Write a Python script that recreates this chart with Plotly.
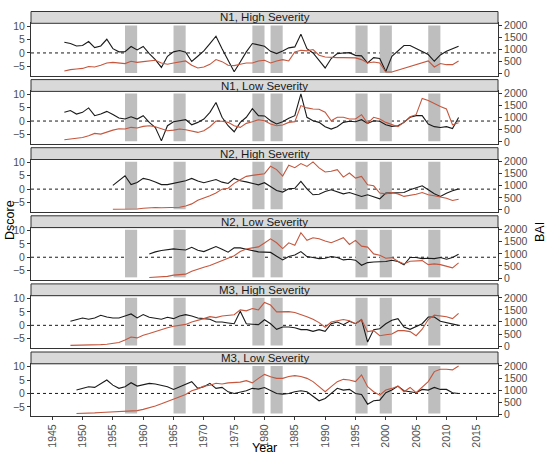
import plotly.graph_objects as go

# drought years shown as grey bands
band_start = [1957, 1965, 1978, 1981, 1995, 1999, 2007]
band_end = [1959, 1967, 1980, 1983, 1997, 2001, 2009]

panel_titles = ["N1, High Severity", "N1, Low Severity", "N2, High Severity",
                "N2, Low Severity", "M3, High Severity", "M3, Low Severity"]
start_year = [1947, 1947, 1955, 1961, 1948, 1949]

# Dscore (black, left axis)
n1_high_dscore = [4.0, 3.5, 2.6, 2.75, 4.25, 2.0, 2.6, 5.1, 1.6, 0.4,
                  0.5, 2.4, 1.1, 2.4, -0.25, -2.5, -5.4, -1.25, 0.4, 0.9,
                  0.25, -3.2, -1.25, 0.75, 3.5, 6.25, 1.6, -2.75, -7.0, -3.4,
                  0.4, 3.5, 3.0, 2.5, 0.6, -0.25, 0.75, 1.9, 2.25, 7.0,
                  1.6, 0.0, -2.75, -5.6, -2.1, -0.25, 0.0, 0.1, -0.9, -1.1,
                  -3.75, -1.75, -2.1, -6.9, -1.25, 0.75, 2.75, 2.75, 1.6, 0.4,
                  -0.6, -3.1, -0.75, 0.6, 1.6, 2.5]
n1_low_dscore = [3.25, 3.9, 2.6, 3.25, 4.9, 2.0, 2.6, 3.6, 2.4, 1.1,
                 0.75, 1.6, 0.75, 2.0, -0.5, -2.4, -7.4, -1.75, -0.25, 0.1,
                 0.5, -1.4, -0.5, 0.75, 3.25, 6.9, 1.4, -1.75, -4.0, -0.5,
                 1.4, 4.6, 2.0, 1.9, 0.1, -1.1, -0.25, 1.0, 2.0, 10.1,
                 1.4, 0.1, -0.5, -2.1, -3.0, -2.1, -0.5, -0.1, -0.25, 0.5,
                 -0.9, 0.1, -0.1, -1.4, -2.0, -1.75, -0.5, 1.4, 2.0, 2.0,
                 -1.1, -2.1, -2.4, -2.1, -2.8, 1.3]
n2_high_dscore = [1.4, 3.25, 5.0, 1.7, 2.5, 4.0, 3.5, 2.7, 1.7, 1.7,
                  2.1, 2.6, 3.1, 4.0, 3.0, 2.4, 3.0, 3.6, 2.6, 2.1,
                  4.0, 3.1, 2.7, 2.1, 1.6, 2.4, 0.9, -0.5, -1.1, 0.1,
                  0.3, 2.9, 0.1, -2.1, -1.9, -0.9, -0.25, -1.1, -1.75, -1.25,
                  -2.1, -2.75, -2.1, -3.0, -3.6, -1.5, -1.5, -1.5, -1.25, -0.25,
                  0.4, 1.25, -0.25, -1.75, -2.75, -1.5, -0.6, 0.1]
n2_low_dscore = [1.2, 2.0, 2.5, 2.8, 3.1, 2.9, 2.7, 3.7, 2.6, 2.1,
                 3.2, 4.0, 3.0, 1.9, 3.5, 3.5, 3.0, 2.5, 2.0, 1.9,
                 1.8, 0.4, -1.0, 0.3, 0.8, 2.1, 0.25, -0.1, -0.5, -0.4,
                 0.25, -0.1, -1.0, -0.75, -1.1, -3.0, -2.0, -1.8, -1.6, -1.6,
                 -1.1, -1.6, -2.8, -0.1, -0.1, -0.5, -0.4, -0.5, -0.1, -0.75,
                 -0.1, 1.1]
m3_high_dscore = [1.5, 2.1, 2.75, 2.25, 2.75, 3.75, 3.1, 2.75, 2.75, 3.5,
                  4.25, 2.75, 4.0, 3.0, 2.5, 2.25, 3.0, 2.5, 3.5, 4.0,
                  3.5, 2.75, 2.5, 2.25, 1.25, 1.25, 0.9, 0.6, 5.25, 0.6,
                  0.4, 0.25, 2.1, 0.6, -1.5, -0.6, -0.6, -0.9, -1.6, -1.6,
                  -2.25, -1.6, -2.25, 0.6, 1.25, 0.25, 1.5, 0.6, 2.1, -6.25,
                  -1.6, -1.25, 0.6, 1.9, 2.5, -0.6, -1.5, -0.6, 0.6, 3.1,
                  3.1, 1.5, 1.0, 0.6, 0.0]
m3_low_dscore = [1.25, 1.75, 2.5, 2.25, 3.5, 5.0, 3.1, 1.9, 2.5, 4.0,
                 2.75, 3.25, 3.75, 3.5, 3.1, 2.5, 1.5, 2.5, 3.5, 4.4,
                 1.9, 2.5, 3.75, 1.9, 2.25, 0.6, 0.0, 0.6, 1.0, 1.9,
                 1.6, 2.2, 1.0, 0.0, -0.25, 0.0, 0.6, 1.0, 0.6, -1.0,
                 -2.75, -1.9, 0.0, 1.9, 1.25, 1.5, 0.0, -0.4, -4.0, -2.75,
                 -2.5, 0.25, 1.25, 2.75, 1.0, 0.6, 0.25, 1.5, 1.25, 2.25,
                 1.5, 1.5, 0.25, 0.0]

# BAI (red, right axis); None = no value, line joins across
n1_high_bai = [110, 170, 195, 220, 300, 280, 350, 445, 470, 445,
               420, 515, 470, 500, 530, 555, 445, 390, 445, 485,
               530, 350, 235, 280, 390, 585, 500, 350, 335, 390,
               445, 445, 530, 555, 445, 530, 585, 530, 900, 975,
               945, 1000, 765, 695, 665, 665, 665, 665, 655, 585,
               445, 485, 445, 70, 70, None, None, None, None, None,
               530, 280, 420, 375, 375, 530]
n1_low_bai = [85, 110, 150, 180, 250, 350, 320, 405, 485, 540,
              530, 600, 570, 640, 665, 625, 530, 460, 485, 530,
              500, 460, 390, 460, 625, 860, 850, 805, 665, 600,
              765, 835, 915, 875, 735, 665, 695, 805, 835, 1500,
              1405, 1360, 1350, 1225, 875, 1015, 1015, 945, 945, 1125,
              765, 1015, 945, 805, 710, 625, 805, 1040, 1125, 1800,
              1710, 1570, 1460, 1360, 700, 790]
n2_high_bai = [30, 30, 30, 30, 40,
               70, 100, 100, 90, 100, 100, 110, 165, 250, 400,
               485, 585, 700, 860, 900, 1100, 1250, 1390, 1430, 1460,
               1500, 1810, 1670, 1400, 1850, 1750, 1920, 1800, 1990, 1740,
               1570, 1600, 1670, 1360, 1530, 1320, 1390, 1040, 1000, 700,
               665, 720, 665, 560, 600, 650, 720, 625, 585, 540,
               485, 390, 445]
n2_low_bai = [20, 35, 50, 70, 120, 140, 160, 280, 380, 450,
              515, 615, 700, 795, 925, 1100, 1205, 1250, 1290, 1450,
              1620, 1460, 1220, 1460, 1360, 1875, 1560, 1670, 1625, 1530,
              1460, 1560, 1670, 1390, 1560, 1320, 1280, 1000, 945, 820,
              845, 695, 585, 695, 720, 720, 555, 585, 555, 485,
              420, 625]
m3_high_bai = [30, 30, 30, 40, 50, 60, 75, 100, 150, 250,
               380, 340, 450, 520, 610, 700, 760, 820, 860, 900,
               1000, 1085, 1140, 1220, 1180, 1250, 1280, 1300, 1500, 1460,
               1560, 1500, 1810, 1700, 1420, 1420, 1430, 1390, 1320, 1220,
               1110, 975, 785, 1000, 1050, 1100, 1050, 930, 1100, 600,
               640, 430, 470, 500, 640, 640, 600, 430, 700, 1100,
               1285, 1250, 1215, 1140, 1360]
m3_low_bai = [30, 30, 40, 55, 70, 85, 95, 95, 110, 125,
              150, 200, 260, 340, 430, 530, 620, 720, 820, 975,
              1050, 1165, 1200, 1280, 1250, 1300, 1320, 1330, 1390, 1300,
              1485, 1650, 1550, 1485, 1485, 1560, 1600, 1560, 1485, 1350,
              1140, 930, 1140, 1350, 1445, 1420, 1350, 1625, 1140, 930,
              790, 1000, 1070, 1165, 930, 1110, 890, 1140, 1350, 1765,
              1860, 1860, 1835, 2000]

dscore_series = [n1_high_dscore, n1_low_dscore, n2_high_dscore,
                 n2_low_dscore, m3_high_dscore, m3_low_dscore]
bai_series = [n1_high_bai, n1_low_bai, n2_high_bai,
              n2_low_bai, m3_high_bai, m3_low_bai]

x_ticks = list(range(1945, 2020, 5))
d_ticks = [-5, 0, 5, 10]
bai_ticks = [0, 500, 1000, 1500, 2000]

# secondary axis: BAI = (Dscore + 7.75) * 111.1
D_RANGE = [-8.45, 11.05]
BAI_RANGE = [(v + 7.75) * 111.1 for v in D_RANGE]
BAND_LOW, BAND_HIGH = -7.5, 10.25

FONT = "Arial, Liberation Sans, sans-serif"
BORDER = "#333333"
TICK_FONT = dict(family=FONT, size=10.5, color="#4D4D4D")

# plot area spans window columns 31..498 and rows 11..417


def py(px):
    # window pixel row -> paper fraction
    return (417 - px) / 406


def px_x(px):
    # window pixel column -> paper fraction
    return (px - 31) / 467


def ax_id(n):
    return "" if n == 1 else str(n)


fig = go.Figure()
shapes = []
annotations = []
layout = {}

for k in range(6):
    n = k + 1
    xa, ya, ya2 = "x" + ax_id(n), "y" + ax_id(n), "y" + ax_id(n + 6)
    top = 23.3 + 68.1 * k
    bottom = top + 52.3
    strip_top = top - 11.8

    yrs_d = list(range(start_year[k], start_year[k] + len(dscore_series[k])))
    yrs_b = list(range(start_year[k], start_year[k] + len(bai_series[k])))

    fig.add_trace(go.Scatter(x=yrs_d, y=dscore_series[k], mode="lines",
                             line=dict(color="#1a1a1a", width=1.1),
                             xaxis=xa, yaxis=ya, showlegend=False))
    fig.add_trace(go.Scatter(x=yrs_b, y=bai_series[k], mode="lines",
                             connectgaps=True,
                             line=dict(color="#C4573E", width=1.1),
                             xaxis=xa, yaxis=ya2, showlegend=False))

    last = k == 5
    layout["xaxis" + ax_id(n)] = dict(
        domain=[0, 1], anchor=ya, range=[1941.5, 2018.5],
        showgrid=False, zeroline=False, showline=True, mirror=True,
        linecolor=BORDER, linewidth=1,
        tickvals=x_ticks if last else [], ticks="outside" if last else "",
        ticklen=3, tickcolor=BORDER, tickangle=-90,
        showticklabels=last, tickfont=TICK_FONT, automargin=False,
    )
    layout["yaxis" + ax_id(n)] = dict(
        domain=[py(bottom), py(top)], anchor=xa, range=D_RANGE,
        tickvals=d_ticks, ticks="outside", ticklen=3, tickcolor=BORDER,
        showgrid=False, zeroline=False, showline=True, mirror=True,
        linecolor=BORDER, linewidth=1, tickfont=TICK_FONT, automargin=False,
    )
    layout["yaxis" + ax_id(n + 6)] = dict(
        overlaying=ya, side="right", anchor=xa, range=BAI_RANGE,
        tickvals=bai_ticks, ticks="outside", ticklen=3, tickcolor=BORDER,
        showgrid=False, zeroline=False, showline=False,
        tickfont=TICK_FONT, automargin=False,
    )

    for s, e in zip(band_start, band_end):
        shapes.append(dict(type="rect", xref=xa, yref=ya, x0=s, x1=e,
                           y0=BAND_LOW, y1=BAND_HIGH, layer="below",
                           fillcolor="#BEBEBE", line=dict(width=0)))
    shapes.append(dict(type="line", xref=xa + " domain", yref=ya,
                       x0=0, x1=1, y0=0, y1=0, layer="below",
                       line=dict(color="#1a1a1a", width=1, dash="3px,3px")))
    # facet strip
    shapes.append(dict(type="rect", xref="paper", yref="paper", x0=0, x1=1,
                       y0=py(top), y1=py(strip_top), fillcolor="#D9D9D9",
                       line=dict(color=BORDER, width=1)))
    annotations.append(dict(text=panel_titles[k], xref="paper", yref="paper",
                            x=0.5, y=py((top + strip_top) / 2),
                            xanchor="center", yanchor="middle", showarrow=False,
                            font=dict(family=FONT, size=11.5, color="#1A1A1A")))

title_font = dict(family=FONT, size=12.5, color="#000000")
annotations += [
    dict(text="Dscore", xref="paper", yref="paper", x=px_x(10), y=py(220),
         xanchor="center", yanchor="middle", textangle=-90, showarrow=False,
         font=title_font),
    dict(text="BAI", xref="paper", yref="paper", x=px_x(540), y=py(232),
         xanchor="center", yanchor="middle", textangle=-90, showarrow=False,
         font=title_font),
    dict(text="Year", xref="paper", yref="paper", x=px_x(264), y=py(448),
         xanchor="center", yanchor="middle", showarrow=False, font=title_font),
]

fig.update_layout(
    width=550, height=461,
    margin=dict(l=31, r=52, t=11, b=44, autoexpand=False),
    paper_bgcolor="white", plot_bgcolor="white",
    shapes=shapes, annotations=annotations,
    **layout,
)

# drop the default page margin so the figure fills the window
fig.write_html("out.html", config={"displayModeBar": False},
               post_script="document.body.style.margin='0px';")
